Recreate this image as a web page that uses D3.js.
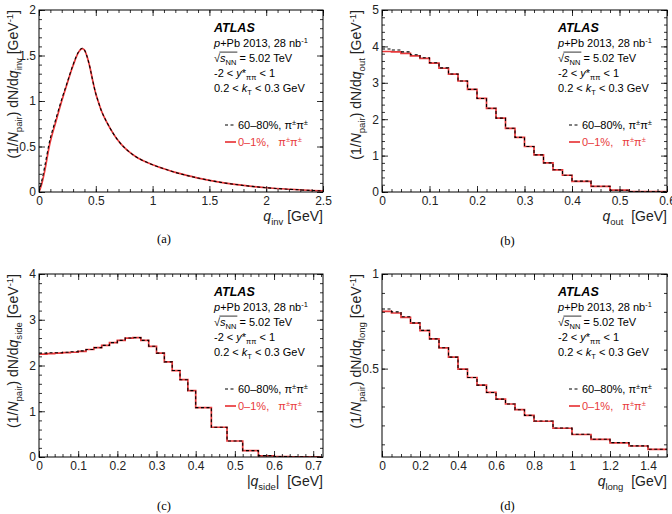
<!DOCTYPE html>
<html>
<head>
<meta charset="utf-8">
<script src="https://cdn.jsdelivr.net/npm/d3@7"></script>
<style>
body { margin: 0; background: #fff; }
svg text { font-family: "Liberation Sans", Arial, Helvetica, sans-serif; white-space: pre; }
</style>
</head>
<body>
<svg id="fig" width="672" height="514"></svg>
<script>
// ---- data ----
// (a) q_inv : smooth distributions
var qInv = [0, 0.02, 0.05, 0.09, 0.15, 0.2, 0.25, 0.3, 0.35, 0.38, 0.4, 0.42, 0.45, 0.47, 0.5, 0.52, 0.55, 0.6, 0.65, 0.7, 0.75, 0.8, 0.85, 0.9, 1.0, 1.1, 1.2, 1.3, 1.4, 1.5, 1.6, 1.8, 2.0, 2.2, 2.5];
var invCentral = [0, 0.07, 0.23, 0.5, 0.78, 1.0, 1.2, 1.39, 1.54, 1.575, 1.56, 1.5, 1.36, 1.24, 1.08, 1.0, 0.89, 0.76, 0.65, 0.56, 0.49, 0.435, 0.39, 0.355, 0.3, 0.255, 0.215, 0.182, 0.153, 0.128, 0.106, 0.072, 0.047, 0.03, 0.012];
var invPeripheral = [0, 0.1, 0.28, 0.54, 0.81, 1.02, 1.21, 1.4, 1.545, 1.58, 1.56, 1.5, 1.36, 1.24, 1.08, 1.0, 0.89, 0.76, 0.65, 0.56, 0.49, 0.435, 0.39, 0.355, 0.3, 0.255, 0.215, 0.182, 0.153, 0.128, 0.106, 0.072, 0.047, 0.03, 0.012];

// (b) q_out : histogram bin edges and contents
var outEdges = [0, 0.02, 0.04, 0.06, 0.08, 0.1, 0.12, 0.14, 0.16, 0.18, 0.2, 0.22, 0.24, 0.26, 0.28, 0.3, 0.32, 0.34, 0.36, 0.38, 0.4, 0.44, 0.48, 0.52, 0.6];
var outCentral = [3.86, 3.85, 3.81, 3.74, 3.67, 3.54, 3.4, 3.24, 3.05, 2.82, 2.57, 2.3, 2.03, 1.75, 1.5, 1.25, 1.02, 0.8, 0.61, 0.46, 0.29, 0.155, 0.05, 0.01];
var outPeripheral = [3.93, 3.9, 3.85, 3.77, 3.69, 3.55, 3.41, 3.24, 3.05, 2.82, 2.57, 2.3, 2.03, 1.75, 1.5, 1.25, 1.02, 0.8, 0.61, 0.46, 0.3, 0.16, 0.05, 0.01];

// (c) |q_side|
var sideEdges = [0, 0.02, 0.04, 0.06, 0.08, 0.1, 0.12, 0.14, 0.16, 0.18, 0.2, 0.22, 0.24, 0.26, 0.28, 0.3, 0.32, 0.34, 0.36, 0.38, 0.4, 0.44, 0.48, 0.52, 0.56, 0.6, 0.64, 0.68, 0.72];
var sideCentral = [2.25, 2.26, 2.27, 2.28, 2.29, 2.31, 2.35, 2.39, 2.44, 2.5, 2.55, 2.6, 2.61, 2.55, 2.42, 2.27, 2.08, 1.89, 1.69, 1.45, 1.08, 0.65, 0.35, 0.14, 0.025, 0.008, 0.002, 0.001];
var sidePeripheral = [2.27, 2.28, 2.28, 2.29, 2.3, 2.32, 2.35, 2.39, 2.44, 2.5, 2.55, 2.6, 2.61, 2.55, 2.42, 2.27, 2.08, 1.89, 1.69, 1.45, 1.08, 0.65, 0.35, 0.14, 0.03, 0.01, 0.003, 0.001];

// (d) q_long
var longEdges = [0, 0.05, 0.1, 0.15, 0.2, 0.25, 0.3, 0.35, 0.4, 0.45, 0.5, 0.55, 0.6, 0.65, 0.7, 0.75, 0.8, 0.9, 1.0, 1.1, 1.2, 1.3, 1.4, 1.5];
var longCentral = [0.802, 0.794, 0.771, 0.74, 0.701, 0.657, 0.61, 0.561, 0.497, 0.453, 0.413, 0.374, 0.339, 0.313, 0.283, 0.253, 0.222, 0.185, 0.152, 0.126, 0.108, 0.091, 0.073];
var longPeripheral = [0.815, 0.8, 0.774, 0.742, 0.702, 0.657, 0.61, 0.561, 0.497, 0.453, 0.413, 0.374, 0.339, 0.313, 0.283, 0.253, 0.223, 0.186, 0.153, 0.127, 0.109, 0.092, 0.074];

// tick labels
var invXTicks = [0, 0.5, 1, 1.5, 2, 2.5];
var invYTicks = [0, 0.5, 1, 1.5, 2];
var outXTicks = [0, 0.1, 0.2, 0.3, 0.4, 0.5, 0.6];
var outYTicks = [0, 1, 2, 3, 4, 5];
var sideXTicks = [0, 0.1, 0.2, 0.3, 0.4, 0.5, 0.6, 0.7];
var sideYTicks = [0, 1, 2, 3, 4];
var longXTicks = [0, 0.2, 0.4, 0.6, 0.8, 1, 1.2, 1.4];
var longYTicks = [0.5, 1];

var RED = "#e8393b";
var svg = d3.select("#fig");

function rich(sel, parts, size) {
    var shift = 0;
    parts.forEach(function(p) {
        var kind = p[1] || "";
        var off = kind == "sub" ? size * 0.3 : (kind == "sup" ? -size * 0.38 : 0);
        var t = sel.append("tspan").text(p[0]).attr("dy", off - shift);
        if (off !== 0) t.attr("font-size", size * 0.68);
        if (kind == "i") t.attr("font-style", "italic");
        shift = off;
    });
    return sel;
}

var panels = [
    {left: 39, right: 323, top: 10, bottom: 192, xdom: [0, 2.5], ydom: [0, 2], smooth: true,
     x: qInv, c: invCentral, p: invPeripheral, xt: invXTicks, yt: invYTicks, xminor: 0.1, yminor: 0.1,
     sub: "inv", xtitle: [["q", "i"], ["inv", "sub"], [" [GeV]"]], cap: "(a)", capY: 243},
    {left: 382, right: 667, top: 10, bottom: 192, xdom: [0, 0.6], ydom: [0, 5],
     x: outEdges, c: outCentral, p: outPeripheral, xt: outXTicks, yt: outYTicks, xminor: 0.02, yminor: 0.2,
     sub: "out", xtitle: [["q", "i"], ["out", "sub"], ["  [GeV]"]], cap: "(b)", capY: 245},
    {left: 39, right: 323, top: 274, bottom: 457, xdom: [0, 0.725], ydom: [0, 4],
     x: sideEdges, c: sideCentral, p: sidePeripheral, xt: sideXTicks, yt: sideYTicks, xminor: 0.02, yminor: 0.2,
     sub: "side", xtitle: [["|"], ["q", "i"], ["side", "sub"], ["|  [GeV]"]], cap: "(c)", capY: 510},
    {left: 382, right: 667, top: 274, bottom: 457, xdom: [0, 1.5], ydom: [0.033, 1],
     x: longEdges, c: longCentral, p: longPeripheral, xt: longXTicks, yt: longYTicks, xminor: 0.05, yminor: 0.1,
     sub: "long", xtitle: [["q", "i"], ["long", "sub"], ["  [GeV]"]], cap: "(d)", capY: 510}
];

panels.forEach(function(P, k) {
    var g = svg.append("g");
    var x = d3.scaleLinear().domain(P.xdom).range([P.left, P.right]);
    var y = d3.scaleLinear().domain(P.ydom).range([P.bottom, P.top]);

    var clipId = "clip" + k;
    svg.append("clipPath").attr("id", clipId).append("rect")
        .attr("x", P.left).attr("y", P.top).attr("width", P.right - P.left).attr("height", P.bottom - P.top);

    // series
    function pts(vals) {
        if (P.smooth) return P.x.map(function(q, i) { return [q, vals[i]]; });
        var a = vals.map(function(v, i) { return [P.x[i], v]; });
        a.push([P.x[P.x.length - 1], vals[vals.length - 1]]);
        return a;
    }
    var line = d3.line().x(function(d) { return x(d[0]); }).y(function(d) { return y(d[1]); })
        .curve(P.smooth ? d3.curveMonotoneX : d3.curveStepAfter);
    var plot = g.append("g").attr("clip-path", "url(#" + clipId + ")");
    plot.append("path").attr("d", line(pts(P.c))).attr("fill", "none")
        .attr("stroke", RED).attr("stroke-width", 1.7);
    plot.append("path").attr("d", line(pts(P.p))).attr("fill", "none")
        .attr("stroke", "#000").attr("stroke-width", 1.1).attr("stroke-dasharray", "3,2.5");

    // axes, ticks pointing inwards on all four sides
    var xMinor = d3.range(P.xdom[0], P.xdom[1] + 1e-9, P.xminor);
    var yMinor = d3.range(0, P.ydom[1] + 1e-9, P.yminor).filter(function(v) { return v >= P.ydom[0]; });
    var noLab = function() { return ""; };
    var fmt = d3.format("~g");

    function axis(gen, tx, ty, vals, size, labels) {
        var a = gen.tickValues(vals).tickSize(-size).tickPadding(labels ? 4 : 0)
            .tickFormat(labels ? fmt : noLab);
        var ag = g.append("g").attr("transform", "translate(" + tx + "," + ty + ")").call(a);
        ag.select(".domain").remove();
        ag.selectAll("line").attr("stroke", "#000").attr("stroke-width", 0.8);
        ag.selectAll("text").attr("font-family", null).attr("font-size", 12).attr("fill", "#222");
        return ag;
    }
    axis(d3.axisBottom(x), 0, P.bottom, xMinor, 3, false);
    axis(d3.axisBottom(x), 0, P.bottom, P.xt, 6, true);
    axis(d3.axisTop(x), 0, P.top, xMinor, 3, false);
    axis(d3.axisTop(x), 0, P.top, P.xt, 6, false);
    axis(d3.axisLeft(y), P.left, 0, yMinor, 3, false);
    var yl = axis(d3.axisLeft(y), P.left, 0, P.yt, 6, true);
    yl.selectAll("text").attr("dx", 1);
    axis(d3.axisRight(y), P.right, 0, yMinor, 3, false);
    axis(d3.axisRight(y), P.right, 0, P.yt, 6, false);

    g.append("rect").attr("x", P.left).attr("y", P.top)
        .attr("width", P.right - P.left).attr("height", P.bottom - P.top)
        .attr("fill", "none").attr("stroke", "#000").attr("stroke-width", 1);

    // axis titles
    rich(g.append("text").attr("x", P.right).attr("y", P.bottom + 29)
        .attr("text-anchor", "end").attr("font-size", 14).attr("fill", "#222"), P.xtitle, 14);
    rich(g.append("text").attr("transform", "translate(" + (P.left - 21) + "," + P.top + ") rotate(-90)")
        .attr("text-anchor", "end").attr("font-size", 14).attr("fill", "#222"),
        [["(1/"], ["N", "i"], ["pair", "sub"], [") dN/d"], ["q", "i"], [P.sub, "sub"], [" [GeV"], ["-1", "sup"], ["]"]], 14);

    // ATLAS label block
    var ix = P.right - 109, fs = 11;
    g.append("text").attr("x", ix).attr("y", P.top + 22).attr("font-size", 12.5)
        .attr("font-weight", "bold").attr("font-style", "italic").text("ATLAS");
    rich(g.append("text").attr("x", ix).attr("y", P.top + 37).attr("font-size", fs),
        [["p", "i"], ["+Pb 2013, 28 nb"], ["-1", "sup"]], fs);
    var sq = rich(g.append("text").attr("x", ix).attr("y", P.top + 52).attr("font-size", fs),
        [["√"], ["s", "i"], ["NN", "sub"], [" = 5.02 TeV"]], fs);
    var tn = sq.selectAll("tspan").nodes();
    var w0 = tn[0].getComputedTextLength(), w12 = tn[1].getComputedTextLength() + tn[2].getComputedTextLength();
    g.append("line").attr("x1", ix + w0 - 0.6).attr("x2", ix + w0 + w12 + 1)
        .attr("y1", P.top + 52 - fs * 0.9).attr("y2", P.top + 52 - fs * 0.9)
        .attr("stroke", "#000").attr("stroke-width", 0.8);
    rich(g.append("text").attr("x", ix).attr("y", P.top + 67).attr("font-size", fs),
        [["-2 < "], ["y", "i"], ["*"], ["ππ", "sub"], [" < 1"]], fs);
    rich(g.append("text").attr("x", ix).attr("y", P.top + 82).attr("font-size", fs),
        [["0.2 < "], ["k", "i"], ["T", "sub"], [" < 0.3 GeV"]], fs);

    // legend
    var ly1 = P.top + 119, ly2 = P.top + 136, lx = P.right - 98;
    g.append("line").attr("x1", lx).attr("x2", lx + 9).attr("y1", ly1 - 4).attr("y2", ly1 - 4)
        .attr("stroke", "#000").attr("stroke-width", 1.1).attr("stroke-dasharray", "3,2.5");
    rich(g.append("text").attr("x", lx + 13).attr("y", ly1).attr("font-size", fs),
        [["60–80%, π"], ["±", "sup"], ["π"], ["±", "sup"]], fs);
    g.append("line").attr("x1", lx).attr("x2", lx + 11).attr("y1", ly2 - 4).attr("y2", ly2 - 4)
        .attr("stroke", RED).attr("stroke-width", 1.7);
    rich(g.append("text").attr("x", lx + 13).attr("y", ly2).attr("font-size", fs).attr("fill", RED),
        [["0–1%,   π"], ["±", "sup"], ["π"], ["±", "sup"]], fs);

    // caption
    g.append("text").attr("x", (P.left + P.right) / 2 - 17).attr("y", P.capY)
        .attr("text-anchor", "middle").attr("font-size", 12.5)
        .style("font-family", '"Liberation Serif", "Times New Roman", serif').text(P.cap);
});
</script>
</body>
</html>
